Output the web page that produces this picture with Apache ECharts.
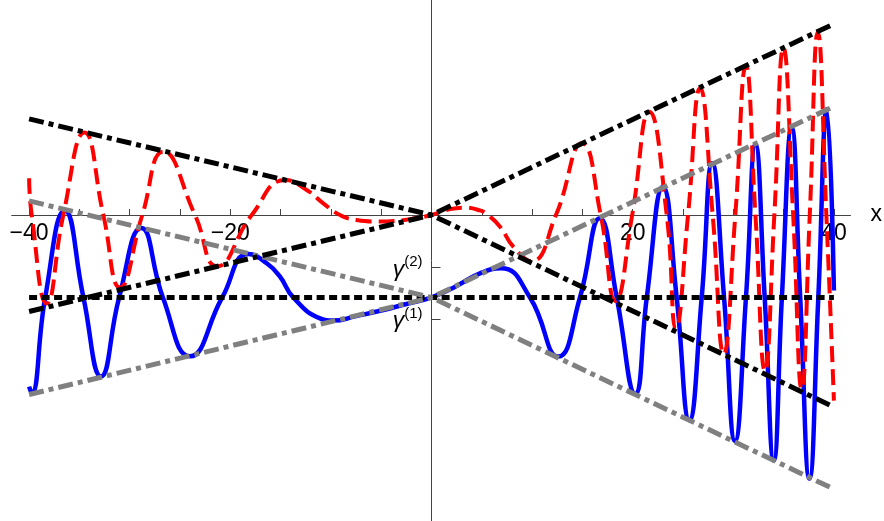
<!DOCTYPE html>
<html>
<head>
<meta charset="utf-8">
<script src="https://cdn.jsdelivr.net/npm/echarts@6/dist/echarts.min.js"></script>
<style>
html,body{margin:0;padding:0;background:#fff;}
#c{width:884px;height:521px;}
</style>
</head>
<body>
<div id="c"></div>
<script>
// ---- data ----
const redX = [-40, -39.74, -38.25, -36.6, -34.5, -32.62, -30.96, -28.75, -26.66, -23.51, -21.3, -17.87, -14.5, -12.41, -10.76, -9.1, -7.44, -5.5, -3.5, -1.8, 0,
  1.5, 3.16, 4.82, 5.6, 6.81, 8.13, 9.9, 12.37, 14.95, 16.82, 18.3, 19.95, 21.65, 23.38, 24.3, 25.5, 26.7, 27.95, 29.05, 30.2, 31.25, 32.2, 33.15, 34.08, 34.98, 35.95, 36.8, 37.6, 38.4, 39.25, 40];
const redY = [3.65, 0, -8.8, 0, 8.2, 0, -7.2, 0, 6.3, 0, -5.1, 0, 3.48, 2.49, 1.16, 0, -0.5, -0.65, -0.58, -0.35, 0,
  0.5, 0.73, 0.45, 0, -1.16, -3.15, -4.6, 0, 7.13, 0, -8.55, 0, 10.25, 0, -11.3, 0, 12.6, 0, -13.8, 0, 14.8, 0, -15.5, 0, 16.6, 0, -17.3, 0, 18.15, 0, -18.45];

const blueX = [-40, -39.74, -38.4, -36.45, -34.6, -32.85, -31.05, -28.85, -26.7, -24.0, -20.8, -18.2, -16.38, -15.06, -13.74, -11.08, -9.76, -7.5, -5.0, -2.5, 0,
  2.5, 4.82, 6.9, 9.79, 12.6, 14.76, 16.72, 18.41, 20.25, 21.4, 23.0, 24.37, 25.63, 26.86, 27.9, 29.08, 30.17, 31.26, 32.2, 33.12, 34.02, 34.83, 35.8, 36.65, 37.57, 38.45, 39.28, 40];
const blueY = [-17.07, -17.73, -8.2, 0.45, -8.2, -16.05, -8.2, -1.3, -8.2, -14.05, -8.2, -3.88, -4.8, -6.13, -8.2, -10.27, -10.5, -10.05, -9.5, -8.85, -8.2,
  -7.05, -5.8, -5.3, -8.2, -14.08, -8.2, -0.33, -8.2, -17.8, -8.2, 2.8, -8.2, -20.4, -8.2, 5.15, -8.2, -22.45, -8.2, 7.0, -8.2, -24.4, -8.2, 8.7, -8.2, -26.2, -8.2, 10.5, -7.5];

// envelope lines (x, y)
const blackUpperX = [-40, 0, 40], blackUpperY = [9.55, 0, 19.0];
const blackLowerX = [-40, 0, 40], blackLowerY = [-9.6, 0, -19.1];
const grayUpperX = [-40, 0, 40], grayUpperY = [1.4, -8.2, 10.8];
const grayLowerX = [-40, 0, 40], grayLowerY = [-17.85, -8.2, -27.25];
const levelX = [-40, 40], levelY = [-8.2, -8.2];

// axis ticks and labels
const xTickValues = [-40, -35, -30, -25, -20, -15, -10, -5, 5, 10, 15, 20, 25, 30, 35, 40];
const xLabelValues = [-40, -20, 20, 40];
const yTickValues = [-5.24, -10.37];
const yTickLabels = ['(2)', '(1)'];

function zip(xs, ys) { return xs.map((x, i) => [x, ys[i]]); }

const chart = echarts.init(document.getElementById('c'), null, {renderer: 'canvas'});
const FONT = 'Liberation Sans';
const axisColor = '#444';
const W = 884, H = 521;
const gridLeft = 11.7, gridRight = 33.5;
const xMin = -41.73, xMax = 41.65, yMin = -30.42, yMax = 21.37;
// offsets that put each axis at the other axis' zero
const xZeroPx = gridLeft + (0 - xMin) / (xMax - xMin) * (W - gridLeft - gridRight);
const yZeroPx = (yMax - 0) / (yMax - yMin) * H;

const option = {
  animation: false,
  backgroundColor: '#fff',
  grid: {left: gridLeft, right: gridRight, top: 0, bottom: 0, containLabel: false, outerBoundsMode: 'none'},
  xAxis: {
    type: 'value', min: xMin, max: xMax, position: 'bottom', offset: -(H - yZeroPx),
    axisLine: {show: true, onZero: false, lineStyle: {color: axisColor, width: 1}},
    axisTick: {show: true, inside: true, length: 6, customValues: xTickValues, lineStyle: {color: axisColor, width: 1}},
    axisLabel: {show: true, customValues: xLabelValues, margin: 7, fontSize: 23, fontFamily: FONT, color: '#000',
      formatter: v => (v < 0 ? '\u2212' + Math.abs(v) : String(v))},
    splitLine: {show: false},
    name: 'x', nameLocation: 'end', nameGap: 20,
    nameTextStyle: {fontSize: 23, fontFamily: FONT, color: '#000'}
  },
  yAxis: {
    type: 'value', min: yMin, max: yMax, position: 'left', offset: -(xZeroPx - gridLeft),
    axisLine: {show: true, onZero: false, lineStyle: {color: axisColor, width: 1}},
    axisTick: {show: true, inside: true, length: 9, customValues: yTickValues, lineStyle: {color: axisColor, width: 1}},
    axisLabel: {show: true, customValues: yTickValues, margin: 9,
      formatter: function (v) {
        let idx = -1;
        yTickValues.forEach((t, i) => { if (Math.abs(t - v) < 1e-6) idx = i; });
        if (idx < 0) return '';
        return '{g|\u03b3}{s|' + yTickLabels[idx] + '}';
      },
      rich: {
        g: {fontSize: 23, fontStyle: 'italic', fontFamily: FONT, color: '#000', lineHeight: 26, verticalAlign: 'bottom'},
        s: {fontSize: 15, fontFamily: FONT, color: '#000', lineHeight: 16, verticalAlign: 'top'}
      }
    },
    splitLine: {show: false}
  },
  series: [
    {type: 'line', data: zip(blueX, blueY), smooth: 0.5, showSymbol: false, z: 2,
      lineStyle: {color: '#0000ff', width: 4.5}},
    {type: 'line', data: zip(redX, redY), smooth: 0.5, showSymbol: false, z: 3,
      lineStyle: {color: '#ff0000', width: 4, type: [16, 7]}},
    {type: 'line', data: zip(levelX, levelY), showSymbol: false, z: 4,
      lineStyle: {color: '#000', width: 5, type: [8, 4.5]}},
    {type: 'line', data: zip(grayUpperX, grayUpperY), showSymbol: false, z: 5,
      lineStyle: {color: '#808080', width: 5, type: [15, 5, 5, 5]}},
    {type: 'line', data: zip(grayLowerX, grayLowerY), showSymbol: false, z: 5,
      lineStyle: {color: '#808080', width: 5, type: [15, 5, 5, 5]}},
    {type: 'line', data: zip(blackUpperX, blackUpperY), showSymbol: false, z: 6,
      lineStyle: {color: '#000', width: 5, type: [15, 5, 5, 5]}},
    {type: 'line', data: zip(blackLowerX, blackLowerY), showSymbol: false, z: 6,
      lineStyle: {color: '#000', width: 5, type: [15, 5, 5, 5]}}
  ]
};
chart.setOption(option);
</script>
</body>
</html>
